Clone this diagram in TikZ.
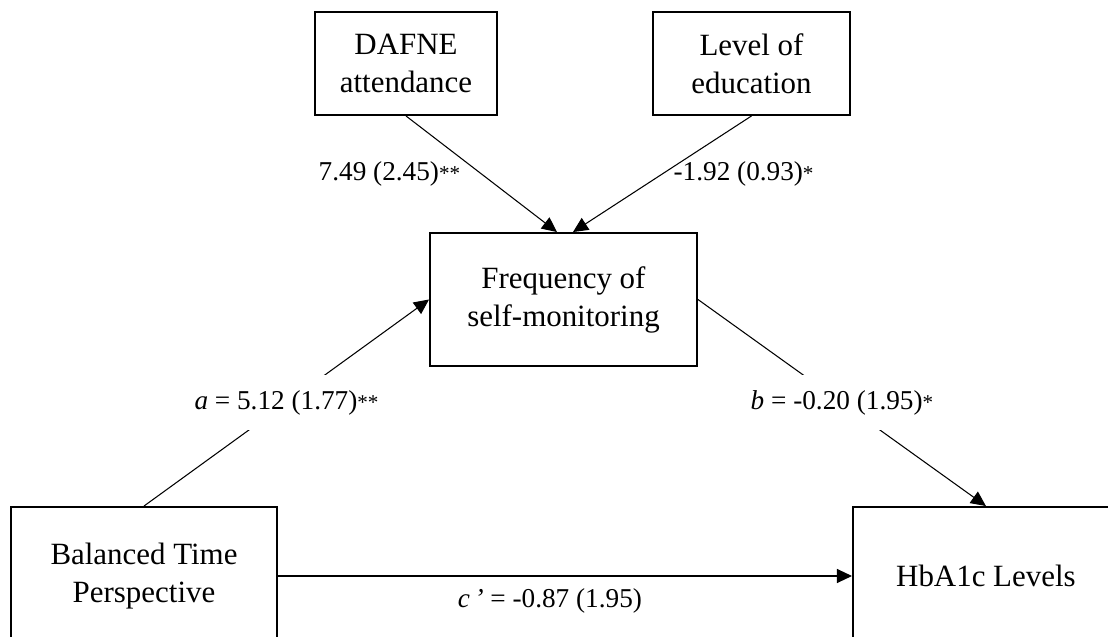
\documentclass[tikz,border=0pt]{standalone}
\usepackage{fontspec}
\setmainfont{Liberation Serif}
\usetikzlibrary{positioning,arrows.meta}
\newcommand{\sigmark}[1]{{\fontsize{12}{12}\selectfont #1}}

\begin{document}
\begin{tikzpicture}

    \tikzstyle{var}=[draw, rectangle, line width=1.1pt, align=center, font=\fontsize{17.6}{21.6}\selectfont];
    \tikzstyle{coef}=[font=\fontsize{15.5}{18}\selectfont];
    \tikzstyle{gapcoef}=[coef, fill=white, inner xsep=1pt, minimum height=1.1cm];
    \tikzstyle{link}=[line width=0.6pt];

    \useasboundingbox (0,0) rectangle (22.16,-12.74);
    \clip (0,0) rectangle (22.16,-12.74);

    \begin{scope}[>={Triangle[length=0.3cm,width=0.28cm]}]
      \node (dafne) at (8.12,-1.27) [var, minimum width=3.64cm, minimum height=2.06cm]{DAFNE\\attendance};
      \node (educ) at (15.03,-1.27) [var, minimum width=3.94cm, minimum height=2.06cm]{Level of\\education};
      \node (selfmon) at (11.27,-5.99) [var, minimum width=5.34cm, minimum height=2.66cm]{Frequency of\\self-monitoring};
      \node (btp) at (2.88,-11.52) [var, minimum width=5.32cm, minimum height=2.76cm]{Balanced Time\\Perspective};
      \node (hba1c) [right=11.48cm of btp, var, minimum width=5.32cm, minimum height=2.76cm]{HbA1c Levels};

      \draw [->, link] (dafne.south) -- node [coef, left=0.3cm] {7.49 (2.45)\sigmark{**}} ([xshift=-0.13cm]selfmon.north);
      \draw [->, link] (educ.south) -- node [coef, right=0.1cm] {-1.92 (0.93)\sigmark{*}} ([xshift=0.19cm]selfmon.north);
      \draw [->, link] (btp.north) -- node [gapcoef] {\textit{a} = 5.12 (1.77)\sigmark{**}} (selfmon.west);
      \draw [->, link] (selfmon.east) -- node [gapcoef] {\textit{b} = -0.20 (1.95)\sigmark{*}} (hba1c.north);
      \draw [->, link] (btp) -- node [coef, below=0.12cm, xshift=-0.3cm] {\textit{c\,’} = -0.87 (1.95)} (hba1c);

    \end{scope}
   \end{tikzpicture}
\end{document}
